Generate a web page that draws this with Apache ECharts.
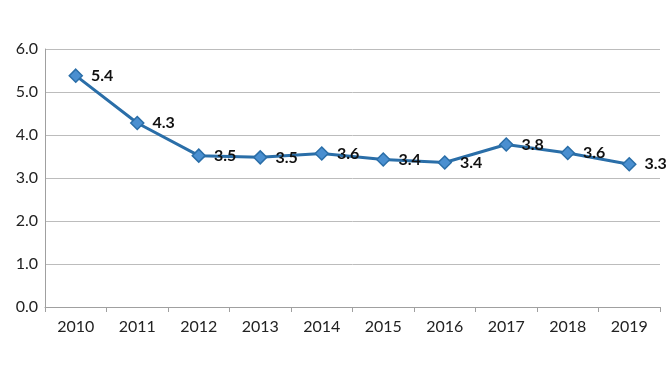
<!DOCTYPE html>
<html><head><meta charset="utf-8">
<script src="https://cdn.jsdelivr.net/npm/echarts@6/dist/echarts.min.js"></script>
<style>html,body{margin:0;padding:0;background:#fff}#c{width:670px;height:380px}</style>
</head><body><div id="c"></div>
<script>
const categories = ['2010','2011','2012','2013','2014','2015','2016','2017','2018','2019'];
const values = [5.38, 4.28, 3.52, 3.48, 3.57, 3.43, 3.36, 3.78, 3.58, 3.32];
const chart = echarts.init(document.getElementById('c'));
chart.setOption({
  animation: false,
  grid: {left: 45, right: 10, top: 49, bottom: 73},
  xAxis: {
    type: 'category', data: categories, boundaryGap: true,
    axisLine: {lineStyle: {color: '#a0a0a0'}},
    axisTick: {show: true, length: 5, lineStyle: {color: '#a0a0a0'}},
    axisLabel: {color: '#222', fontFamily: 'Lato', fontSize: 16, margin: 12}
  },
  yAxis: {
    type: 'value', min: 0, max: 6, interval: 1,
    axisLine: {show: true, lineStyle: {color: '#a0a0a0'}},
    axisTick: {show: false},
    splitLine: {lineStyle: {color: '#bcbcbc'}},
    axisLabel: {color: '#222', fontFamily: 'Lato', fontSize: 16, margin: 7, formatter: v => v.toFixed(1)}
  },
  series: [{
    type: 'line', data: values,
    symbol: 'diamond', symbolSize: 13,
    lineStyle: {color: '#2a6ea8', width: 3},
    itemStyle: {color: '#4a8fd0', borderColor: '#2a6ea8', borderWidth: 1.5},
    label: {show: true, position: 'right', distance: 8, color: '#111', fontFamily: 'Lato', fontWeight: 'bold', fontSize: 16,
      formatter: p => p.value.toFixed(1)}
  }]
});
</script></body></html>
